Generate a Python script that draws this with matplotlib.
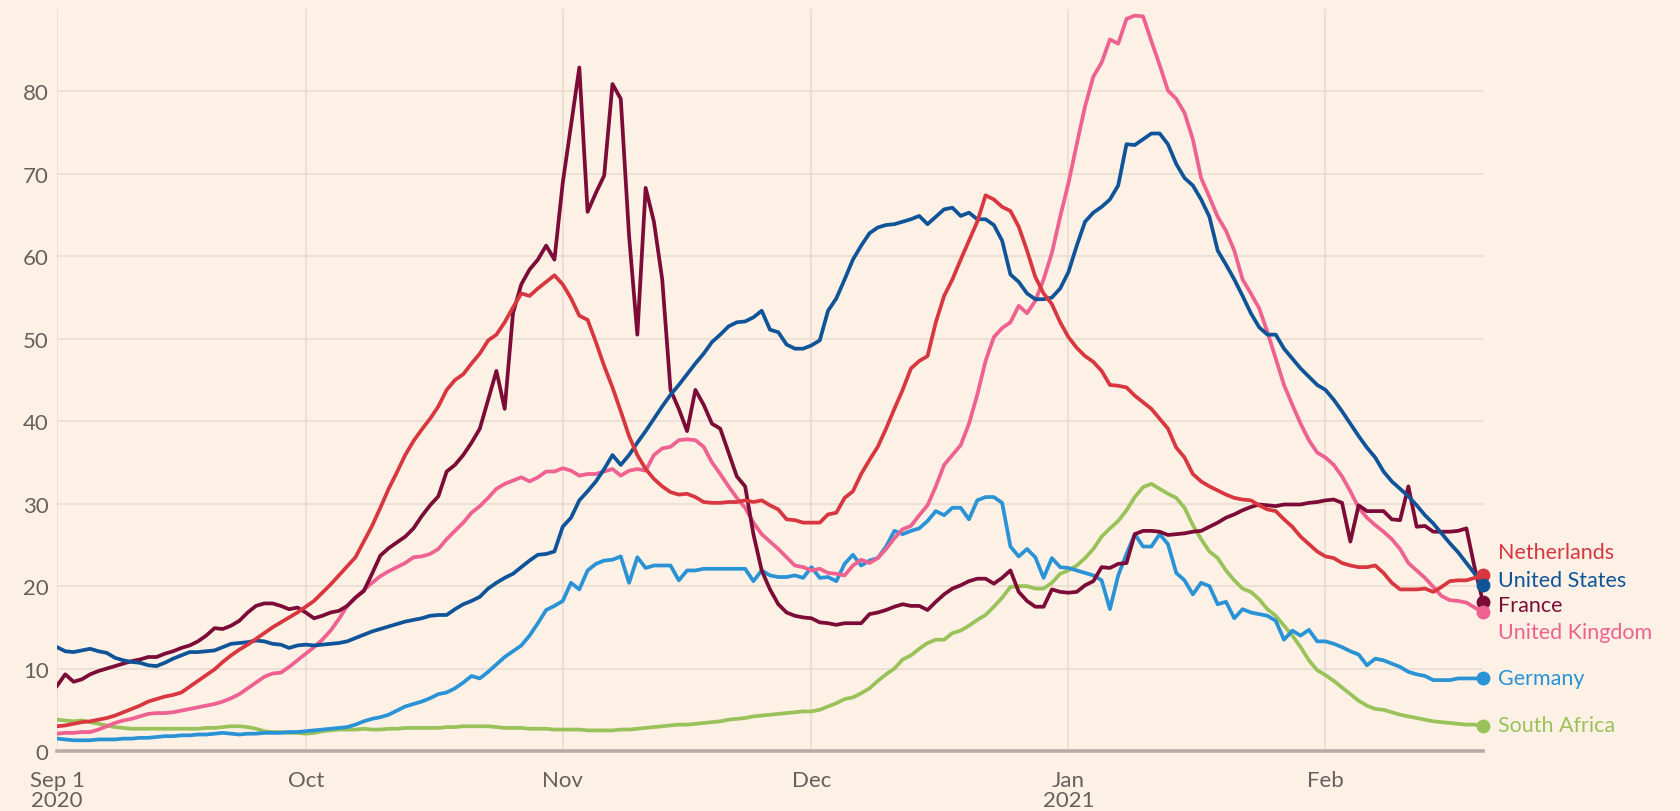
import matplotlib
matplotlib.use('Agg')
import matplotlib.pyplot as plt
import pandas as pd

# daily values, 1 Sep 2020 - 20 Feb 2021
netherlands = [
    3.0, 3.1, 3.3, 3.5, 3.6, 3.8, 4.0, 4.3, 4.7, 5.1,
    5.5, 6.0, 6.3, 6.6, 6.8, 7.1, 7.8, 8.5, 9.2, 9.9,
    10.8, 11.6, 12.3, 12.9, 13.6, 14.3, 15.0, 15.6, 16.2, 16.8,
    17.5, 18.2, 19.2, 20.2, 21.3, 22.4, 23.5, 25.4, 27.3, 29.5,
    31.8, 33.8, 35.9, 37.6, 39.0, 40.3, 41.8, 43.8, 45.0, 45.7,
    47.0, 48.2, 49.8, 50.5, 52.0, 53.8, 55.5, 55.2, 56.1, 56.9,
    57.7,
    56.6, 54.9, 52.8, 52.3, 49.6, 46.7, 44.1, 41.2, 38.2, 35.9,
    34.2, 33.0, 32.1, 31.4, 31.1, 31.2, 30.8, 30.2, 30.1, 30.1,
    30.2, 30.2, 30.4, 30.2, 30.4, 29.8, 29.3, 28.1, 28.0, 27.7,
    27.7, 27.7, 28.7, 28.9, 30.7, 31.5, 33.6, 35.3, 36.9, 39.1,
    41.5, 43.8, 46.4, 47.3, 47.9, 52.0, 55.2, 57.2, 59.6, 61.9,
    64.2, 67.4, 66.9, 66.0, 65.5, 63.6, 60.7, 57.5, 55.5, 54.2,
    52.0,
    50.2, 48.9, 47.9, 47.2, 46.1, 44.4, 44.3, 44.1, 43.1, 42.3,
    41.5, 40.3, 39.1, 36.8, 35.6, 33.6, 32.7, 32.1, 31.6, 31.1,
    30.7, 30.5, 30.4, 29.8, 29.3, 29.1, 28.1, 27.2, 26.0, 25.1,
    24.2,
    23.6, 23.4, 22.8, 22.5, 22.3, 22.3, 22.5, 21.6, 20.4, 19.6,
    19.6, 19.6, 19.7, 19.3, 19.9, 20.6, 20.7, 20.7, 21.0, 21.4,
]

united_states = [
    12.6, 12.1, 12.0, 12.2, 12.4, 12.1, 11.9, 11.3, 11.0, 10.8,
    10.7, 10.4, 10.3, 10.7, 11.2, 11.6, 12.0, 12.0, 12.1, 12.2,
    12.6, 13.0, 13.1, 13.2, 13.4, 13.3, 13.0, 12.9, 12.5, 12.8,
    12.9, 12.8, 12.9, 13.0, 13.1, 13.3, 13.7, 14.1, 14.5, 14.8,
    15.1, 15.4, 15.7, 15.9, 16.1, 16.4, 16.5, 16.5, 17.2, 17.8,
    18.2, 18.7, 19.7, 20.4, 21.0, 21.5, 22.3, 23.1, 23.8, 23.9,
    24.2,
    27.2, 28.3, 30.4, 31.5, 32.7, 34.2, 35.9, 34.7, 35.9, 37.4,
    38.8, 40.3, 41.8, 43.2, 44.4, 45.7, 47.0, 48.2, 49.6, 50.5,
    51.5, 52.0, 52.1, 52.6, 53.4, 51.1, 50.8, 49.3, 48.8, 48.8,
    49.2, 49.8, 53.4, 54.9, 57.2, 59.6, 61.3, 62.8, 63.5, 63.8,
    63.9, 64.2, 64.5, 64.9, 63.9, 64.8, 65.7, 65.9, 64.9, 65.3,
    64.5, 64.5, 63.8, 61.9, 57.8, 56.9, 55.5, 54.8, 54.8, 55.0,
    56.1,
    58.1, 61.3, 64.2, 65.3, 66.0, 66.9, 68.6, 73.6, 73.5, 74.2,
    74.9, 74.9, 73.6, 71.2, 69.5, 68.6, 66.9, 64.8, 60.7, 59.0,
    57.2, 55.2, 53.1, 51.4, 50.5, 50.5, 48.8, 47.6, 46.4, 45.4,
    44.4,
    43.8, 42.6, 41.2, 39.7, 38.2, 36.8, 35.6, 33.9, 32.7, 31.8,
    30.9, 29.8, 28.6, 27.6, 26.4, 25.2, 24.1, 22.8, 21.5, 20.1,
]

france = [
    7.9, 9.3, 8.4, 8.7, 9.3, 9.7, 10.0, 10.3, 10.6, 10.9,
    11.1, 11.4, 11.4, 11.8, 12.1, 12.5, 12.8, 13.3, 14.0, 14.9,
    14.8, 15.2, 15.8, 16.8, 17.6, 17.9, 17.9, 17.6, 17.2, 17.4,
    16.8, 16.1, 16.4, 16.8, 17.0, 17.6, 18.6, 19.4, 21.5, 23.7,
    24.6, 25.3, 26.0, 27.0, 28.5, 29.8, 30.9, 33.9, 34.7, 35.9,
    37.4, 39.1, 42.6, 46.1, 41.5, 53.1, 56.6, 58.4, 59.6, 61.3,
    59.6,
    68.9, 75.9, 82.9, 65.4, 67.7, 69.8, 80.9, 79.1, 62.5, 50.5,
    68.3, 64.2, 57.2, 43.8, 41.5, 38.8, 43.8, 42.0, 39.7, 39.1,
    36.2, 33.3, 32.1, 26.3, 21.9, 19.6, 17.8, 16.8, 16.4, 16.2,
    16.1, 15.6, 15.5, 15.3, 15.5, 15.5, 15.5, 16.6, 16.8, 17.1,
    17.5, 17.8, 17.6, 17.6, 17.1, 18.1, 19.0, 19.7, 20.1, 20.6,
    20.9, 20.9, 20.3, 21.0, 21.9, 19.3, 18.2, 17.5, 17.5, 19.6,
    19.3,
    19.2, 19.3, 20.1, 20.6, 22.3, 22.2, 22.7, 22.8, 26.3, 26.7,
    26.7, 26.6, 26.2, 26.3, 26.4, 26.6, 26.7, 27.2, 27.7, 28.3,
    28.7, 29.2, 29.6, 29.9, 29.8, 29.7, 29.9, 29.9, 29.9, 30.1,
    30.2,
    30.4, 30.5, 30.1, 25.4, 29.8, 29.1, 29.1, 29.1, 28.1, 28.0,
    32.1, 27.2, 27.3, 26.6, 26.6, 26.6, 26.7, 27.0, 22.2, 18.1,
]

united_kingdom = [
    2.1, 2.2, 2.2, 2.3, 2.3, 2.6, 3.0, 3.4, 3.7, 3.9,
    4.2, 4.5, 4.6, 4.6, 4.7, 4.9, 5.1, 5.3, 5.5, 5.7,
    6.0, 6.4, 6.9, 7.6, 8.3, 9.0, 9.4, 9.5, 10.2, 11.0,
    11.8, 12.6, 13.5, 14.6, 16.0, 17.6, 18.6, 19.5, 20.4, 21.2,
    21.8, 22.3, 22.8, 23.5, 23.6, 23.9, 24.5, 25.7, 26.7, 27.7,
    28.9, 29.7, 30.7, 31.8, 32.4, 32.8, 33.2, 32.7, 33.2, 33.9,
    33.9,
    34.3, 34.0, 33.4, 33.6, 33.6, 33.9, 34.2, 33.4, 34.0, 34.2,
    34.0, 35.9, 36.7, 36.9, 37.7, 37.8, 37.7, 36.9, 35.0, 33.6,
    32.1, 30.7, 29.5, 27.7, 26.3, 25.4, 24.5, 23.5, 22.5, 22.3,
    21.9, 22.1, 21.6, 21.5, 21.3, 22.5, 23.2, 22.8, 23.4, 24.5,
    25.8, 26.9, 27.3, 28.6, 29.8, 32.1, 34.7, 35.9, 37.1, 39.7,
    43.2, 47.3, 50.2, 51.3, 52.0, 54.0, 53.1, 54.6, 57.2, 60.4,
    64.8,
    68.9, 73.6, 78.2, 81.8, 83.5, 86.3, 85.8, 88.8, 89.2, 89.1,
    86.1, 83.2, 80.1, 79.1, 77.4, 74.2, 69.5, 67.2, 64.8, 63.1,
    60.7, 57.2, 55.5, 53.7, 50.8, 47.6, 44.4, 42.0, 39.7, 37.7,
    36.2,
    35.6, 34.7, 33.3, 31.5, 29.5, 28.3, 27.4, 26.6, 25.7, 24.5,
    22.8, 21.9, 21.0, 19.9, 18.8, 18.3, 18.2, 18.0, 17.4, 16.8,
]

germany = [
    1.5, 1.4, 1.3, 1.3, 1.3, 1.4, 1.4, 1.4, 1.5, 1.5,
    1.6, 1.6, 1.7, 1.8, 1.8, 1.9, 1.9, 2.0, 2.0, 2.1,
    2.2, 2.1, 2.0, 2.1, 2.1, 2.2, 2.2, 2.2, 2.3, 2.3,
    2.4, 2.5, 2.6, 2.7, 2.8, 2.9, 3.2, 3.6, 3.9, 4.1,
    4.4, 4.9, 5.4, 5.7, 6.0, 6.4, 6.9, 7.1, 7.6, 8.3,
    9.1, 8.8, 9.6, 10.5, 11.4, 12.1, 12.8, 14.0, 15.5, 17.1,
    17.6,
    18.2, 20.4, 19.6, 21.9, 22.7, 23.1, 23.2, 23.6, 20.4, 23.5,
    22.2, 22.5, 22.5, 22.5, 20.7, 21.9, 21.9, 22.1, 22.1, 22.1,
    22.1, 22.1, 22.1, 20.6, 21.9, 21.3, 21.1, 21.1, 21.3, 21.0,
    22.3, 21.0, 21.1, 20.6, 22.7, 23.8, 22.5, 23.1, 23.4, 24.8,
    26.7, 26.3, 26.7, 27.0, 27.9, 29.1, 28.6, 29.5, 29.5, 28.1,
    30.4, 30.8, 30.8, 30.1, 24.8, 23.6, 24.5, 23.5, 21.0, 23.4,
    22.3,
    22.2, 21.9, 21.6, 21.3, 20.7, 17.2, 21.3, 23.9, 26.3, 24.8,
    24.8, 26.3, 25.1, 21.6, 20.7, 19.0, 20.4, 20.0, 17.8, 18.1,
    16.1, 17.2, 16.8, 16.6, 16.4, 15.8, 13.5, 14.6, 14.0, 14.7,
    13.3,
    13.3, 13.0, 12.6, 12.1, 11.7, 10.4, 11.2, 11.0, 10.6, 10.2,
    9.6, 9.3, 9.1, 8.6, 8.6, 8.6, 8.8, 8.8, 8.8, 8.8,
]

south_africa = [
    3.8, 3.7, 3.6, 3.7, 3.5, 3.3, 3.1, 2.9, 2.8, 2.7,
    2.7, 2.7, 2.7, 2.7, 2.7, 2.7, 2.7, 2.7, 2.8, 2.8,
    2.9, 3.0, 3.0, 2.9, 2.7, 2.4, 2.3, 2.3, 2.2, 2.2,
    2.1, 2.2, 2.4, 2.5, 2.6, 2.6, 2.6, 2.7, 2.6, 2.6,
    2.7, 2.7, 2.8, 2.8, 2.8, 2.8, 2.8, 2.9, 2.9, 3.0,
    3.0, 3.0, 3.0, 2.9, 2.8, 2.8, 2.8, 2.7, 2.7, 2.7,
    2.6,
    2.6, 2.6, 2.6, 2.5, 2.5, 2.5, 2.5, 2.6, 2.6, 2.7,
    2.8, 2.9, 3.0, 3.1, 3.2, 3.2, 3.3, 3.4, 3.5, 3.6,
    3.8, 3.9, 4.0, 4.2, 4.3, 4.4, 4.5, 4.6, 4.7, 4.8,
    4.8, 5.0, 5.4, 5.8, 6.3, 6.5, 7.0, 7.6, 8.5, 9.3,
    10.0, 11.1, 11.6, 12.4, 13.1, 13.5, 13.5, 14.3, 14.6, 15.2,
    15.9, 16.5, 17.5, 18.6, 19.9, 20.0, 20.0, 19.7, 19.7, 20.4,
    21.5,
    21.9, 22.5, 23.4, 24.5, 26.0, 27.0, 27.9, 29.2, 30.8, 32.0,
    32.4, 31.8, 31.2, 30.7, 29.5, 27.4, 25.7, 24.2, 23.4, 21.9,
    20.7, 19.7, 19.3, 18.4, 17.2, 16.4, 15.2, 14.0, 12.6, 11.0,
    9.8,
    9.2, 8.5, 7.7, 6.9, 6.1, 5.5, 5.1, 5.0, 4.7, 4.4,
    4.2, 4.0, 3.8, 3.6, 3.5, 3.4, 3.3, 3.2, 3.2, 3.0,
]

names = ['Netherlands', 'United States', 'France', 'United Kingdom', 'Germany', 'South Africa']
colors = ['#d9373f', '#0f5499', '#7c0c37', '#ee6190', '#2a93d5', '#99c35a']
label_y = [24.1, 20.8, 17.7, 14.4, 8.9, 3.2]   # spread-out label positions
tick_dates = ['2020-09-01', '2020-10-01', '2020-11-01', '2020-12-01', '2021-01-01', '2021-02-01']
tick_labels = ['Sep 1\n2020', 'Oct', 'Nov', 'Dec', 'Jan\n2021', 'Feb']

series = [netherlands, united_states, france, united_kingdom, germany, south_africa]
dates = pd.date_range('2020-09-01', periods=len(netherlands), freq='D')

plt.rcParams['font.family'] = ['Lato', 'DejaVu Sans']
bg = '#fdf1e6'
grid_c = '#e9ddd2'
text_c = '#66605c'

fig = plt.figure(figsize=(16.8, 8.12), dpi=100, facecolor=bg)
ax = fig.add_axes([57 / 1680, 1 - 752 / 812, (1483 - 57) / 1680, (752 - 10) / 812])
ax.set_facecolor(bg)

# draw last-to-first so Netherlands/US sit on top like the original
for name, vals, col in reversed(list(zip(names, series, colors))):
    ax.plot(dates, vals, color=col, lw=2.7, solid_joinstyle='round', zorder=3)

for name, vals, col, ly in zip(names, series, colors, label_y):
    ax.plot(dates[-1], vals[-1], 'o', color=col, ms=9, clip_on=False, zorder=4)
    ax.annotate(name, xy=(dates[-1], ly), xytext=(11, 0), textcoords='offset points',
                color=col, fontsize=15.5, va='center', ha='left', annotation_clip=False)

ax.set_xlim(dates[0], dates[-1])
ax.set_ylim(0, 90)

ax.set_yticks(range(0, 90, 10))
ax.set_xticks(pd.to_datetime(tick_dates))
ax.set_xticklabels(tick_labels)
ax.tick_params(axis='both', length=0, labelsize=16, colors=text_c)
ax.tick_params(axis='y', pad=6)
ax.tick_params(axis='x', pad=14)
for lab in ax.get_xticklabels():
    lab.set_linespacing(1.0)

ax.grid(True, color=grid_c, lw=1.2, zorder=0)
ax.set_axisbelow(True)
for s in ['top', 'right', 'left']:
    ax.spines[s].set_visible(False)
ax.spines['bottom'].set_color('#b7ada5')
ax.spines['bottom'].set_linewidth(2.6)
ax.spines['bottom'].set_zorder(2)

plt.savefig('out.png', dpi=100, facecolor=bg)
